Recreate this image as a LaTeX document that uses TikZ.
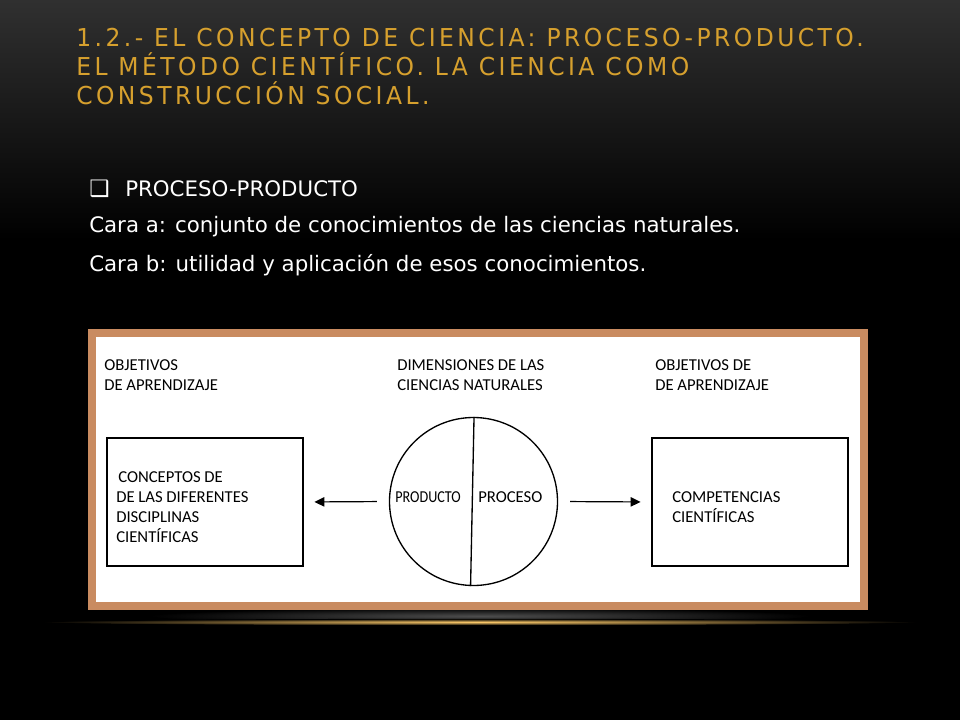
\documentclass[tikz,border=0pt]{standalone}
\usepackage{fontspec}
\usepackage{graphicx}
\setmainfont{DejaVu Sans}
\newfontfamily\titlefont[LetterSpace=14,FakeStretch=0.95]{DejaVu Sans}
\newfontfamily\diagfont{Carlito}
\usetikzlibrary{arrows.meta}

\definecolor{titlegold}{RGB}{214,160,46}
\definecolor{frametan}{RGB}{201,139,96}
\definecolor{bgtop}{RGB}{48,48,48}
\definecolor{glowgold}{RGB}{250,200,105}

\tikzset{
  titleline/.style={anchor=base west, inner sep=0pt, text=titlegold, font=\titlefont\fontsize{18.5}{22}\selectfont},
  bodyline/.style={anchor=base west, inner sep=0pt, text=white, font=\fontsize{16}{20}\selectfont},
  lbl/.style={anchor=base west, inner sep=0pt, font=\diagfont\fontsize{12.5}{15}\selectfont},
  objbox/.style={draw, line width=1pt, minimum width=147pt, minimum height=96pt, inner sep=0pt},
  dimcircle/.style={draw, circle, line width=1pt, minimum size=126pt, inner sep=0pt},
  flow/.style={-{Triangle[length=7.5pt,width=7pt]}, line width=0.9pt, shorten <=9pt, shorten >=8pt},
}

\begin{document}
\begin{tikzpicture}[x=0.75pt,y=0.75pt,yscale=-1,xscale=1]
\useasboundingbox (0,0) rectangle (960,720);
%Background
\fill[black] (0,0) rectangle (960,720);
\shade[top color=bgtop, bottom color=black] (0,0) rectangle (960,240);
%Glow under the picture
\shade[inner color=gray!60!black, outer color=black] (480,616) ellipse (330 and 8);
\shade[inner color=glowgold, outer color=black] (480,622) ellipse (440 and 3.2);
%Shape: Frame
\fill[frametan] (88,329) rectangle (868,610);
\fill[white] (96,337) rectangle (860,602);

% Title
\draw (76,47) node[titleline] (t1) {1.2.- EL CONCEPTO DE CIENCIA: PROCESO-PRODUCTO.};
\draw (76,76) node[titleline] (t2) {EL MÉTODO CIENTÍFICO. LA CIENCIA COMO};
\draw (76,105) node[titleline] (t3) {CONSTRUCCIÓN SOCIAL.};
% Bullet text
\draw (89,197) node[bodyline, font=\fontsize{17}{20}\selectfont] (bul) {❑};
\draw (125,197) node[bodyline] (b1) {PROCESO-PRODUCTO};
\draw (89,233) node[bodyline] (b2) {Cara a: conjunto de conocimientos de las ciencias naturales.};
\draw (89,272) node[bodyline] (b3) {Cara b: utilidad y aplicación de esos conocimientos.};

%Shape: Boxes and circle
\node[objbox] (lbox) at (205,502) {};
\node[objbox] (rbox) at (750,502) {};
\node[dimcircle] (dim) at (473.5,501.5) {};
%Straight Lines
\draw[line width=1pt] ([xshift=0.4pt]dim.north) -- ([xshift=-2.2pt]dim.south);
\draw[flow] (dim.west) -- (lbox.east);
\draw[flow] (dim.east) -- (rbox.west);

% Text Node
\draw (104,370) node[lbl] (lobj1) {OBJETIVOS};
\draw (104,390) node[lbl] (lobj2) {DE APRENDIZAJE};
% Text Node
\draw (397,370) node[lbl] (dim1) {DIMENSIONES DE LAS};
\draw (397,390) node[lbl] (dim2) {CIENCIAS NATURALES};
% Text Node
\draw (655,370) node[lbl] (robj1) {OBJETIVOS DE};
\draw (655,390) node[lbl] (robj2) {DE APRENDIZAJE};
% Text Node
\draw (118,482) node[lbl] (lb1) {CONCEPTOS DE};
\draw (116,502) node[lbl] (lb2) {DE LAS DIFERENTES};
\draw (116,522) node[lbl] (lb3) {DISCIPLINAS};
\draw (116,542) node[lbl] (lb4) {CIENTÍFICAS};
% Text Node
\draw (395,502) node[lbl] (prod) {\scalebox{0.85}[1]{PRODUCTO}};
\draw (478,502) node[lbl] (proc) {PROCESO};
% Text Node
\draw (672,502) node[lbl] (rb1) {COMPETENCIAS};
\draw (672,522) node[lbl] (rb2) {CIENTÍFICAS};
\end{tikzpicture}
\end{document}
